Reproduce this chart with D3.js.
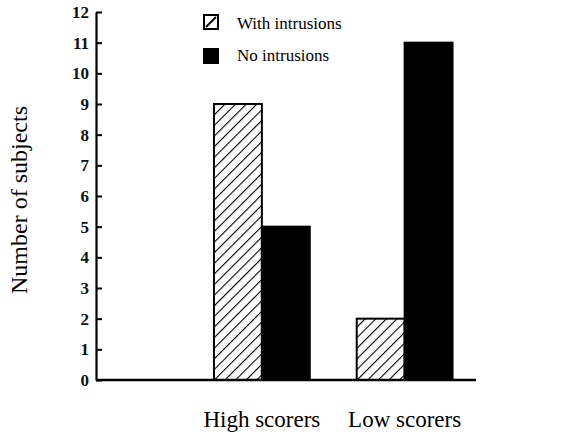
<!DOCTYPE html>
<html>
<head>
<meta charset="utf-8">
<script src="https://cdn.jsdelivr.net/npm/d3@7"></script>
<style>
  body { margin: 0; background: #fff; }
  svg text { font-family: "Liberation Serif", "Times New Roman", serif; }
</style>
</head>
<body>
<div id="chart"></div>
<script>
// Data
const categories = ["High scorers", "Low scorers"];
const seriesNames = ["With intrusions", "No intrusions"];
const withIntrusions = [9, 2];
const noIntrusions = [5, 11];
const yTicks = d3.range(0, 13);

const W = 565, H = 434;
const axisX = 96, axisRight = 476;
const yTop = 12, yBottom = 380;

const svg = d3.select("#chart").append("svg")
  .attr("width", W)
  .attr("height", H);

// hatch pattern (lines rising left to right)
const defs = svg.append("defs");
const pat = defs.append("pattern")
  .attr("id", "hatch")
  .attr("patternUnits", "userSpaceOnUse")
  .attr("width", 7.5).attr("height", 7.5)
  .attr("patternTransform", "rotate(45)");
pat.append("rect").attr("width", 7.5).attr("height", 7.5).attr("fill", "#fff");
pat.append("line")
  .attr("x1", 0).attr("y1", 0).attr("x2", 0).attr("y2", 7.5)
  .attr("stroke", "#000").attr("stroke-width", 2.2);

const y = d3.scaleLinear().domain([0, 12]).range([yBottom, yTop]);
const x0 = d3.scaleBand().domain(categories).range([190.5, axisRight]).padding(0);
const x1 = d3.scaleBand().domain(seriesNames).range([0, x0.bandwidth()])
  .paddingInner(0).paddingOuter(0.49);

const fills = { "With intrusions": "url(#hatch)", "No intrusions": "#000" };

const rows = categories.map((c, i) => ({
  cat: c,
  values: [
    { key: "With intrusions", v: withIntrusions[i] },
    { key: "No intrusions", v: noIntrusions[i] }
  ]
}));

// bars
const groups = svg.append("g").selectAll("g")
  .data(rows).enter().append("g")
  .attr("transform", d => `translate(${x0(d.cat)},0)`);

groups.selectAll("rect")
  .data(d => d.values).enter().append("rect")
  .attr("x", d => x1(d.key))
  .attr("y", d => y(d.v))
  .attr("width", x1.bandwidth())
  .attr("height", d => y(0) - y(d.v))
  .attr("fill", d => fills[d.key])
  .attr("stroke", "#000")
  .attr("stroke-width", 2);

// y axis, ticks pointing inward
const yAxis = d3.axisLeft(y).tickValues(yTicks).tickSizeInner(-6).tickSizeOuter(0).tickPadding(7);
const yg = svg.append("g")
  .attr("transform", `translate(${axisX},0)`)
  .call(yAxis)
  .attr("font-family", null)
  .attr("font-size", null);
yg.select(".domain").attr("stroke-width", 2.2);
yg.selectAll(".tick line").attr("stroke-width", 2);
yg.selectAll(".tick text")
  .style("font-size", "17px")
  .style("font-weight", "bold")
  .attr("fill", "#111");

// x axis baseline
svg.append("line")
  .attr("x1", axisX).attr("x2", axisRight)
  .attr("y1", y(0)).attr("y2", y(0))
  .attr("stroke", "#000").attr("stroke-width", 2.4);

// category labels
svg.append("g").selectAll("text")
  .data(categories).enter().append("text")
  .attr("x", d => x0(d) + x0.bandwidth() / 2)
  .attr("y", 427)
  .attr("text-anchor", "middle")
  .style("font-size", "23px")
  .text(d => d);

// y title
svg.append("text")
  .attr("transform", `translate(27,${(yTop + yBottom) / 2 + 4}) rotate(-90)`)
  .attr("text-anchor", "middle")
  .style("font-size", "24px")
  .text("Number of subjects");

// legend
const legend = svg.append("g").selectAll("g")
  .data(seriesNames).enter().append("g")
  .attr("transform", (d, i) => `translate(204,${15 + i * 34})`);
legend.append("rect")
  .attr("width", 14).attr("height", 14)
  .attr("fill", d => d === "With intrusions" ? "#fff" : "#000")
  .attr("stroke", "#000").attr("stroke-width", 2);
legend.filter(d => d === "With intrusions").append("line")
  .attr("x1", 2).attr("y1", 12).attr("x2", 12).attr("y2", 2)
  .attr("stroke", "#000").attr("stroke-width", 2);
legend.append("text")
  .attr("x", 33)
  .attr("y", (d, i) => 14 - i * 2)
  .style("font-size", "17px")
  .text(d => d);
</script>
</body>
</html>
